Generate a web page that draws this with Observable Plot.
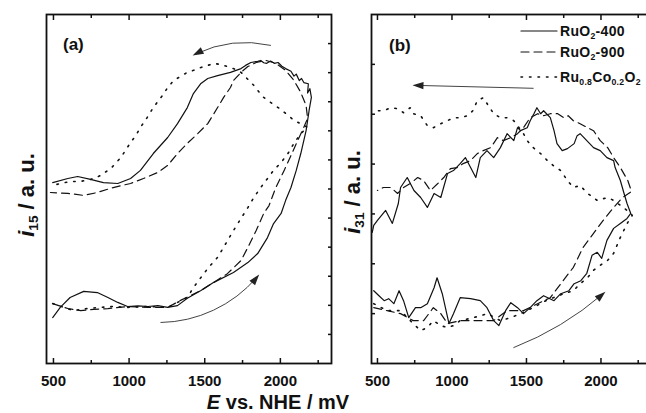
<!DOCTYPE html>
<html><head><meta charset="utf-8">
<script src="https://cdn.jsdelivr.net/npm/d3@7"></script>
<script src="https://cdn.jsdelivr.net/npm/@observablehq/plot@0.6"></script>
<style>
html,body{margin:0;padding:0;background:#fff;overflow:hidden;}
#wrap{position:relative;width:646px;height:413px;overflow:hidden;font-family:"Liberation Sans",Arial,sans-serif;font-weight:bold;color:#111;}
.abs{position:absolute;white-space:nowrap;line-height:1;}
.plot{position:absolute;top:0;}
sub{font-size:0.62em;vertical-align:-0.3em;line-height:0;}
</style></head><body><div id="wrap"></div>
<script>
// ---------- data ----------
const seriesNames = ["RuO2-400", "RuO2-900", "Ru0.8Co0.2O2"];
const legendLabels = ["RuO<sub>2</sub>-400", "RuO<sub>2</sub>-900", "Ru<sub>0.8</sub>Co<sub>0.2</sub>O<sub>2</sub>"];
const majorTicks = [500, 1000, 1500, 2000];
const minorTicks = [750, 1250, 1750, 2250];
const yTicksA = [1,2,3,4,5,6,7,8,9,10,11];
const yTicksB = [1,2,3,4,5,6];

// panel (a): [E / mV, i15 / a.u.]
const a400 = [[495,1.58],[545,1.93],[610,2.27],[700,2.48],[790,2.44],[860,2.27],[925,2.10],[990,1.96],[1060,1.98],[1125,1.96],[1190,1.99],[1255,1.93],[1320,1.99],[1385,2.24],[1475,2.51],[1560,2.79],[1690,3.13],[1785,3.47],[1850,3.78],[1915,4.33],[1955,4.81],[2005,5.16],[2035,5.61],[2070,6.05],[2105,6.64],[2135,7.22],[2170,8.01],[2190,8.70],[2205,9.15],[2195,9.45],[2180,9.30],[2185,9.62],[2155,9.66],[2140,9.80],[2125,9.73],[2105,9.95],[2090,9.88],[2070,10.05],[2035,10.14],[2010,10.22],[1985,10.35],[1960,10.32],[1935,10.40],[1910,10.32],[1890,10.34],[1870,10.42],[1850,10.39],[1805,10.35],[1770,10.25],[1740,10.14],[1670,10.01],[1585,9.90],[1520,9.80],[1475,9.63],[1425,9.28],[1385,8.80],[1320,8.25],[1255,7.77],[1160,7.22],[1075,6.64],[1010,6.36],[925,6.19],[830,6.22],[745,6.33],[660,6.43],[595,6.36],[495,6.22]];
const a900 = [[495,2.06],[595,1.89],[680,1.82],[765,1.86],[860,1.89],[990,1.96],[1125,1.93],[1255,1.93],[1340,2.17],[1475,2.51],[1560,2.79],[1650,3.09],[1740,3.54],[1785,3.99],[1840,4.57],[1890,5.16],[1925,5.43],[1970,6.05],[2025,6.64],[2070,7.15],[2115,7.67],[2155,8.12],[2180,8.43],[2170,8.87],[2135,9.32],[2090,9.73],[2035,10.08],[1970,10.32],[1905,10.42],[1840,10.35],[1785,10.21],[1740,10.01],[1690,9.73],[1670,9.49],[1625,9.15],[1585,8.80],[1520,8.25],[1455,7.91],[1385,7.57],[1320,7.22],[1255,6.81],[1190,6.57],[1095,6.36],[1010,6.19],[895,6.05],[790,5.88],[700,5.78],[595,5.85],[480,5.88]];
const aCo = [[495,2.06],[630,1.82],[725,1.89],[810,1.93],[895,1.96],[990,1.93],[1125,1.96],[1255,1.93],[1320,2.10],[1385,2.27],[1425,2.61],[1475,2.96],[1525,3.30],[1585,3.65],[1640,4.13],[1690,4.57],[1740,4.99],[1785,5.36],[1825,5.71],[1870,6.05],[1915,6.36],[1955,6.64],[2005,6.91],[2050,7.22],[2090,7.57],[2135,7.91],[2180,8.12],[2090,8.36],[2035,8.60],[1985,8.80],[1935,8.98],[1890,9.15],[1850,9.39],[1825,9.56],[1785,9.77],[1740,10.01],[1690,10.14],[1650,10.21],[1605,10.28],[1560,10.32],[1520,10.25],[1475,10.18],[1425,10.08],[1385,10.01],[1340,9.87],[1295,9.73],[1255,9.49],[1230,9.28],[1190,9.01],[1160,8.80],[1120,8.46],[1075,8.12],[1045,7.84],[1010,7.60],[975,7.32],[945,7.08],[910,6.88],[880,6.71],[810,6.46],[745,6.33],[680,6.26],[615,6.26],[545,6.19],[495,6.12]];

// panel (b): [E / mV, i31 / a.u.]
const b400 = [[475,1.46],[510,1.36],[545,1.26],[575,1.30],[610,1.20],[645,1.46],[675,1.26],[710,0.92],[755,1.12],[790,1.12],[835,1.20],[880,1.52],[900,1.72],[935,1.40],[980,0.80],[1010,1.00],[1055,1.32],[1125,1.30],[1190,1.26],[1235,1.12],[1280,0.86],[1315,0.76],[1360,1.06],[1395,1.22],[1440,1.12],[1480,1.00],[1525,1.12],[1570,1.26],[1615,1.36],[1685,1.26],[1730,1.40],[1785,1.46],[1820,1.60],[1865,1.66],[1905,1.81],[1940,2.17],[1975,2.23],[2005,2.11],[2040,2.47],[2085,2.71],[2130,2.81],[2175,2.91],[2200,3.01],[2175,3.21],[2155,3.41],[2130,3.67],[2095,3.93],[2085,4.07],[2040,4.13],[1995,4.27],[1950,4.33],[1905,4.47],[1860,4.61],[1840,4.57],[1820,4.41],[1775,4.31],[1740,4.27],[1705,4.41],[1685,4.67],[1660,4.93],[1615,5.07],[1595,5.01],[1570,5.13],[1550,5.01],[1525,4.87],[1505,4.73],[1460,4.67],[1440,4.73],[1415,4.47],[1370,4.61],[1325,4.33],[1280,4.13],[1235,4.27],[1190,4.13],[1160,3.73],[1125,3.93],[1090,4.13],[1055,4.01],[1010,3.87],[970,3.81],[925,3.33],[880,3.41],[835,3.13],[790,3.33],[745,3.47],[700,3.73],[655,3.53],[640,3.21],[600,2.81],[555,3.07],[500,2.87],[475,2.77],[465,2.63]];
const b900 = [[475,1.12],[565,1.06],[655,1.00],[740,0.86],[810,0.86],[875,1.12],[925,1.00],[970,0.80],[1055,0.86],[1170,0.86],[1280,0.86],[1370,1.06],[1480,1.06],[1575,1.20],[1660,1.32],[1730,1.60],[1815,1.93],[1880,2.33],[1950,2.61],[2015,2.87],[2085,3.13],[2145,3.33],[2185,3.41],[2205,3.45],[2180,3.67],[2130,3.93],[2085,4.13],[2045,4.33],[1995,4.47],[1950,4.67],[1910,4.73],[1860,4.81],[1815,4.87],[1780,4.97],[1750,4.93],[1710,5.01],[1660,5.01],[1615,4.97],[1575,5.01],[1525,4.93],[1480,4.73],[1440,4.61],[1395,4.53],[1345,4.47],[1305,4.53],[1260,4.33],[1210,4.27],[1170,4.21],[1125,4.07],[1075,4.01],[1035,3.93],[990,3.91],[945,3.73],[905,3.61],[855,3.47],[810,3.67],[770,3.73],[720,3.61],[675,3.53],[635,3.41],[590,3.53],[540,3.53],[500,3.47]];
const bCo = [[475,1.20],[565,1.06],[655,1.06],[740,0.80],[790,0.66],[835,0.72],[875,0.86],[925,0.76],[970,0.72],[1010,0.76],[1055,0.86],[1145,0.92],[1240,1.00],[1325,0.86],[1395,0.92],[1460,1.00],[1545,1.12],[1630,1.26],[1680,1.32],[1750,1.40],[1815,1.46],[1860,1.60],[1910,1.72],[1950,1.87],[1995,1.97],[2045,2.07],[2085,2.21],[2130,2.53],[2180,2.83],[2210,2.97],[2200,3.01],[2150,3.13],[2085,3.27],[2045,3.33],[1975,3.27],[1930,3.37],[1910,3.41],[1860,3.57],[1815,3.53],[1775,3.67],[1730,3.87],[1680,3.97],[1640,4.07],[1595,4.21],[1545,4.33],[1505,4.47],[1480,4.61],[1440,4.77],[1415,4.87],[1370,4.93],[1325,4.93],[1280,5.01],[1245,5.17],[1210,5.33],[1170,5.27],[1140,5.07],[1105,4.97],[1055,4.93],[1010,4.93],[970,4.87],[925,4.81],[875,4.73],[835,4.77],[790,4.97],[740,5.01],[720,5.13],[675,5.03],[635,5.11],[590,5.13],[540,5.07],[475,5.07]];

// scan-direction arrows (data units, bend in degrees)
const arrowsA = [
  {x1: 1935, y1: 10.94, x2: 1420, y2: 10.59, bend: -20},
  {x1: 1210, y1: 1.41, x2: 1860, y2: 3.06, bend: -25}
];
const arrowsB = [
  {x1: 1545, y1: 5.52, x2: 735, y2: 5.58, bend: 0},
  {x1: 1415, y1: 0.32, x2: 2030, y2: 1.44, bend: -10}
];

// ---------- styles ----------
const INK = "#111";
const ARROW = "#444";
const dashes = [null, "8,5", "1.5,7"];
const H = 413, MT = 14, MB = 50;

// filled triangular arrow head, tip at the vector's anchor point
const headShape = {draw(ctx, l) { ctx.moveTo(0, -l); ctx.lineTo(-3.6, 0); ctx.lineTo(3.6, 0); ctx.closePath(); }};

function panel({series, xDomain, yDomain, yTicks, yAnchor, width, marginLeft, marginRight, arrows}) {
  const emptyFmt = () => "";
  // pixel per data unit, to orient arrow heads on screen
  const kx = (width - marginLeft - marginRight) / (xDomain[1] - xDomain[0]);
  const ky = (H - MT - MB) / (yDomain[1] - yDomain[0]);
  const heads = arrows.map(a => {
    const dx = (a.x2 - a.x1) * kx, dy = -(a.y2 - a.y1) * ky;
    const chord = Math.atan2(dx, -dy) * 180 / Math.PI;
    return {x: a.x2, y: a.y2, rotate: chord + a.bend};
  });
  return Plot.plot({
    width, height: H, marginLeft, marginRight, marginTop: MT, marginBottom: MB,
    style: {fontFamily: "'Liberation Sans', Arial, sans-serif", fontSize: "15px", fontWeight: "bold", color: INK, background: "transparent", overflow: "visible"},
    x: {domain: xDomain},
    y: {domain: yDomain},
    marks: [
      Plot.axisX({anchor: "bottom", ticks: majorTicks, tickSize: -5, tickPadding: 17, label: null, tickFormat: d => String(d), strokeWidth: 1.5}),
      Plot.axisX({anchor: "bottom", ticks: minorTicks, tickSize: -3, label: null, tickFormat: emptyFmt, strokeWidth: 1.5}),
      Plot.axisX({anchor: "top", ticks: majorTicks, tickSize: -5, label: null, tickFormat: emptyFmt, strokeWidth: 1.5}),
      Plot.axisX({anchor: "top", ticks: minorTicks, tickSize: -3, label: null, tickFormat: emptyFmt, strokeWidth: 1.5}),
      Plot.axisY({anchor: yAnchor, ticks: yTicks, tickSize: -4, label: null, tickFormat: emptyFmt, strokeWidth: 1.5}),
      ...series.map((s, i) => Plot.line(s, {x: d => d[0], y: d => d[1], stroke: INK, strokeWidth: i === 2 ? 1.6 : 1.2, strokeDasharray: dashes[i], strokeLinecap: "round"})),
      ...arrows.map(a => Plot.arrow([a], {x1: "x1", y1: "y1", x2: "x2", y2: "y2", bend: a.bend, stroke: ARROW, strokeWidth: 1, headLength: 0, insetEnd: 4})),
      Plot.vector(heads, {x: "x", y: "y", rotate: "rotate", length: 11, anchor: "end", shape: headShape, fill: "#222", stroke: "none"}),
      Plot.frame({stroke: INK, strokeWidth: 1.8})
    ]
  });
}

const wrap = document.getElementById("wrap");

const pa = panel({series: [a400, a900, aCo], xDomain: [454, 2338], yDomain: [0, 12], yTicks: yTicksA, yAnchor: "right", width: 340, marginLeft: 46, marginRight: 9, arrows: arrowsA});
pa.classList.add("plot"); pa.style.left = "0px";
wrap.appendChild(pa);

const pb = panel({series: [b400, b900, bCo], xDomain: [460, 2319], yDomain: [0, 7], yTicks: yTicksB, yAnchor: "left", width: 318, marginLeft: 41, marginRight: 0, arrows: arrowsB});
pb.classList.add("plot"); pb.style.left = "330px";
wrap.appendChild(pb);

function addText(html, left, top, css) {
  const d = document.createElement("div");
  d.className = "abs";
  d.innerHTML = html;
  d.style.left = left + "px"; d.style.top = top + "px";
  Object.assign(d.style, css || {});
  wrap.appendChild(d);
  return d;
}
// panel tags
addText("(a)", 63, 36, {fontSize: "17px"});
addText("(b)", 389, 37, {fontSize: "17px"});
// axis titles
addText("<i>i</i><sub>15</sub> / a. u.", 27, 195, {fontSize: "22px", transform: "translate(-50%,-50%) rotate(-90deg)"});
addText("<i>i</i><sub>31</sub> / a. u.", 353, 192, {fontSize: "22px", transform: "translate(-50%,-50%) rotate(-90deg)"});
addText("<i>E</i> vs. NHE / mV", 278, 402, {fontSize: "20px", transform: "translate(-50%,-50%)"});

// legend
const rowsY = [31, 52, 77];
legendLabels.forEach((lab, i) => {
  const sw = `<svg width="38" height="6" style="position:absolute;left:0;top:-3px;overflow:visible"><line x1="1" y1="3" x2="37" y2="3" stroke="${INK}" stroke-width="${i===2?1.6:1.2}" ${dashes[i] ? `stroke-dasharray="${dashes[i]}"` : ""} stroke-linecap="round"/></svg>`;
  addText(sw, 520, rowsY[i], {});
  addText(lab, 560, rowsY[i], {fontSize: "14px", transform: "translateY(-50%)", letterSpacing: "0.3px"});
});
</script></body></html>
